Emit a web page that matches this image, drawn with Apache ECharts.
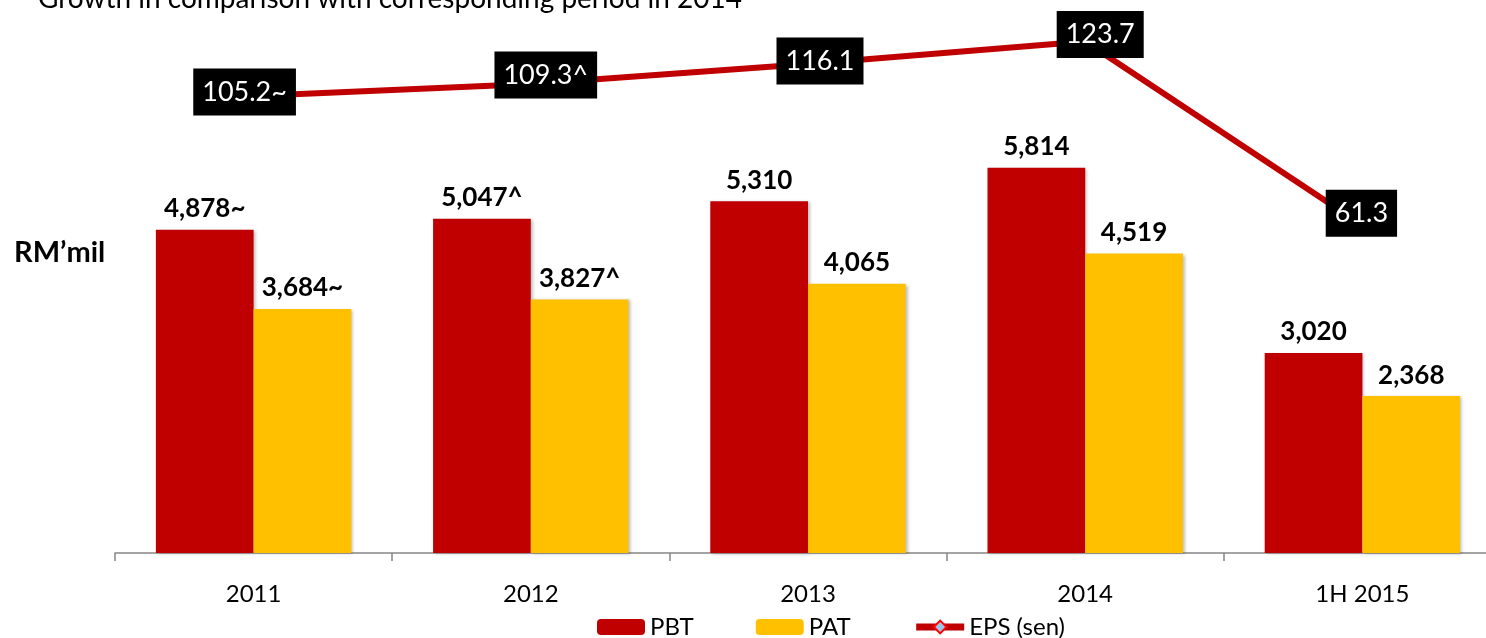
<!DOCTYPE html>
<html>
    <head>
        <meta charset="utf-8">
        <script src="https://cdn.jsdelivr.net/npm/echarts@6/dist/echarts.min.js"></script>
        <style>
            html, body { margin: 0; padding: 0; background: #fff; }
            #main { width: 1486px; height: 638px; }
        </style>
    </head>
    <body>
        <div id="main"></div>
        <script>
            var categories = ['2011', '2012', '2013', '2014', '1H 2015'];
            var pbt = [4878, 5047, 5310, 5814, 3020];
            var pat = [3684, 3827, 4065, 4519, 2368];
            var eps = [105.2, 109.3, 116.1, 123.7, 61.3];
            // footnote marks shown next to some values
            var pbtMarks = ['~', '^', '', '', ''];
            var patMarks = ['~', '^', '', '', ''];
            var epsMarks = ['~', '^', '', '', ''];

            // where each EPS box sits relative to its point
            var epsLabelOffsets = [[-9, -4], [15, -9], [12, -3], [15, -7], [-1, -12]];

            var font = 'Lato, "Open Sans", sans-serif';

            function fmt(v) {
                return v.toLocaleString('en-US');
            }

            var chart = echarts.init(document.getElementById('main'));

            var epsData = eps.map(function (v, i) {
                return {
                    value: v,
                    label: { offset: epsLabelOffsets[i] }
                };
            });

            chart.setOption({
                animation: false,
                backgroundColor: '#fff',
                textStyle: { fontFamily: font },
                grid: {
                    left: 115,
                    right: -15,
                    top: 23,
                    bottom: 85,
                    outerBoundsMode: 'none'
                },
                legend: {
                    left: 592,
                    top: 610,
                    itemWidth: 48,
                    itemHeight: 16,
                    itemGap: 62,
                    lineStyle: { width: 7 },
                    textStyle: { fontFamily: font, fontSize: 24, color: '#000' },
                    data: ['PBT', 'PAT', 'EPS (sen)']
                },
                graphic: [
                    {
                        type: 'text',
                        left: 38,
                        top: -15,
                        style: {
                            text: 'Growth in comparison with corresponding period in 2014',
                            font: '28px ' + font,
                            fill: '#000'
                        }
                    },
                    {
                        type: 'text',
                        left: 14,
                        top: 238,
                        style: {
                            text: 'RM’mil',
                            font: 'bold 29px ' + font,
                            fill: '#000'
                        }
                    }
                ],
                xAxis: {
                    type: 'category',
                    data: categories,
                    axisLine: { lineStyle: { color: '#868686', width: 1.5 } },
                    axisTick: { show: true, length: 8, lineStyle: { color: '#868686', width: 1.5 } },
                    axisLabel: { fontSize: 24, color: '#000', margin: 29, fontFamily: font }
                },
                yAxis: [
                    { type: 'value', min: 0, max: 8000, show: false, splitLine: { show: false } },
                    { type: 'value', min: -50, max: 130, show: false, splitLine: { show: false } }
                ],
                series: [
                    {
                        name: 'PBT',
                        type: 'bar',
                        data: pbt,
                        barGap: 0,
                        barCategoryGap: '29.5%',
                        itemStyle: {
                            color: '#c00000',
                            shadowColor: 'rgba(0,0,0,0.25)',
                            shadowBlur: 3,
                            shadowOffsetX: 2,
                            shadowOffsetY: 1
                        },
                        label: {
                            show: true,
                            position: 'top',
                            distance: 8,
                            fontSize: 26,
                            fontWeight: 'bold',
                            color: '#000',
                            fontFamily: font,
                            formatter: function (p) { return fmt(p.value) + pbtMarks[p.dataIndex]; }
                        }
                    },
                    {
                        name: 'PAT',
                        type: 'bar',
                        data: pat,
                        itemStyle: {
                            color: '#ffc000',
                            shadowColor: 'rgba(0,0,0,0.25)',
                            shadowBlur: 3,
                            shadowOffsetX: 2,
                            shadowOffsetY: 1
                        },
                        label: {
                            show: true,
                            position: 'top',
                            distance: 8,
                            fontSize: 26,
                            fontWeight: 'bold',
                            color: '#000',
                            fontFamily: font,
                            formatter: function (p) { return fmt(p.value) + patMarks[p.dataIndex]; }
                        }
                    },
                    {
                        name: 'EPS (sen)',
                        type: 'line',
                        yAxisIndex: 1,
                        data: epsData,
                        z: 5,
                        symbol: 'diamond',
                        symbolSize: 1,
                        itemStyle: { color: '#9dc3e6', borderColor: '#ff0000', borderWidth: 1.5 },
                        lineStyle: { color: '#c00000', width: 6 },
                        label: {
                            show: true,
                            position: 'inside',
                            fontSize: 27,
                            lineHeight: 31,
                            color: '#fff',
                            backgroundColor: '#000',
                            padding: [8, 9],
                            fontFamily: font,
                            formatter: function (p) { return p.value.toFixed(1) + epsMarks[p.dataIndex]; }
                        }
                    }
                ]
            });
        </script>
    </body>
</html>
